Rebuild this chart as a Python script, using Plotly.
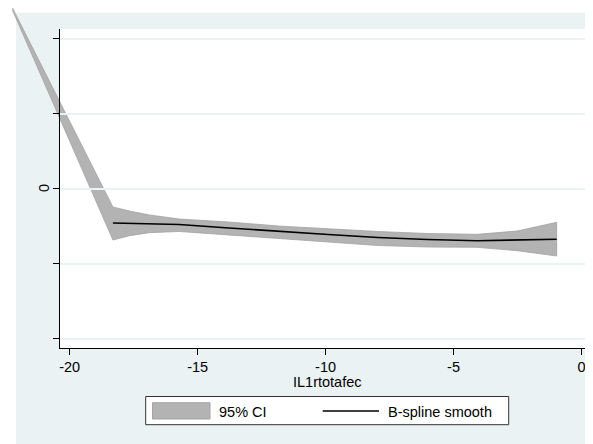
import plotly.graph_objects as go

# ---------------- data ----------------
x_ci = [-22.24, -18.31, -17.66, -16.88, -15.72, -13.78, -11.84, -9.90,
        -7.96, -6.02, -4.08, -2.52, -1.75, -0.97]
ci_upper = [2.41, -0.247, -0.300, -0.353, -0.407, -0.447, -0.500, -0.540,
            -0.573, -0.600, -0.611, -0.567, -0.513, -0.451]
ci_lower = [2.38, -0.687, -0.629, -0.589, -0.573, -0.620, -0.673, -0.713,
            -0.760, -0.780, -0.784, -0.829, -0.864, -0.900]
x_fit = [-18.31, -17.66, -16.88, -15.72, -13.78, -11.84, -9.90,
         -7.96, -6.02, -4.08, -2.52, -1.75, -0.97]
fit = [-0.460, -0.467, -0.473, -0.480, -0.527, -0.573, -0.613,
       -0.653, -0.680, -0.696, -0.687, -0.680, -0.677]

x_tickvals = [-20, -15, -10, -5, 0]
x_ticktext = ["-20", "-15", "-10", "-5", "0"]
y_tickvals = [-2, -1, 0, 1, 2]
y_labelled = 0
y_label_text = "0"
x_title = "IL1rtotafec"
legend_labels = ["95% CI", "B-spline smooth"]

# ---------------- geometry / style ----------------
OFF = 8                    # page body margin
W, H = 585, 436            # figure size
SR, SB = OFF + W, OFF + H  # right / bottom edge of figure in screenshot px
PL, PR, PT, PB = 60, SR, 29, 348          # plot region (screenshot px)
X20, X0 = 69.7, 581.5                     # px of x=-20 and x=0
x_ppu = (X0 - X20) / 20
x_range = [-20 - (X20 - PL) / x_ppu, (PR - X0) / x_ppu]
y_range = [-2.1267, 2.1267]
BG = "#eaf2f3"
BAND_FILL = "#b3b3b3"
BAND_LINE = "#a3a3a3"
FONT = "Liberation Sans, Arial, Helvetica, sans-serif"
FS = 14.5

# full-figure axes (so the band is not clipped at the plot region)
xppu = (PR - PL) / (x_range[1] - x_range[0])
yppu = (PB - PT) / (y_range[1] - y_range[0])
x_full = [x_range[0] - (PL - OFF) / xppu, x_range[1] + (SR - PR) / xppu]
y_full = [y_range[0] - (SB - PB) / yppu, y_range[1] + (PT - OFF) / yppu]


def px(x):
    return (x - OFF) / W


def py(y):
    return 1 - (y - OFF) / H


fig = go.Figure()

fig.add_trace(go.Scatter(
    x=x_ci + x_ci[::-1], y=ci_upper + ci_lower[::-1],
    fill="toself", fillcolor=BAND_FILL, mode="lines",
    line=dict(color=BAND_LINE, width=0.8),
    name=legend_labels[0], showlegend=False, hoverinfo="skip",
    xaxis="x", yaxis="y"))
fig.add_trace(go.Scatter(
    x=x_fit, y=fit, mode="lines", line=dict(color="black", width=1.6),
    name=legend_labels[1], showlegend=False, xaxis="x", yaxis="y"))
# empty trace so the visible axes subplot exists
fig.add_trace(go.Scatter(x=[], y=[], xaxis="x2", yaxis="y2",
                         showlegend=False, hoverinfo="skip"))

shapes = [
    # outer background
    dict(type="rect", xref="paper", yref="paper", x0=px(16), x1=1,
         y0=0, y1=py(12.7), fillcolor=BG, line=dict(width=0), layer="below"),
    # plot region
    dict(type="rect", xref="paper", yref="paper", x0=px(PL), x1=1,
         y0=py(PB), y1=py(PT), fillcolor="white", line=dict(width=0),
         layer="below"),
    # legend box
    dict(type="rect", xref="paper", yref="paper", x0=px(145.7), x1=px(508.7),
         y0=py(424.7), y1=py(396.5), fillcolor="white",
         line=dict(color="#333333", width=1), layer="above"),
    # legend swatch for CI
    dict(type="rect", xref="paper", yref="paper", x0=px(152.5), x1=px(210),
         y0=py(419), y1=py(402.7), fillcolor=BAND_FILL,
         line=dict(color=BAND_LINE, width=1), layer="above"),
    # legend line for smooth
    dict(type="line", xref="paper", yref="paper", x0=px(322.7), x1=px(379),
         y0=py(411), y1=py(411), line=dict(color="black", width=1.6),
         layer="above"),
]

txt = dict(family=FONT, size=FS, color="black")
annotations = [
    dict(text=legend_labels[0], xref="paper", yref="paper", x=px(216.5),
         y=py(411.5), xanchor="left", yanchor="middle", showarrow=False,
         font=txt),
    dict(text=legend_labels[1], xref="paper", yref="paper", x=px(386.3),
         y=py(411.5), xanchor="left", yanchor="middle", showarrow=False,
         font=txt),
    # x axis title
    dict(text=x_title, xref="paper", yref="paper", x=px(327.3),
         y=py(382), xanchor="center", yanchor="middle", showarrow=False,
         font=txt),
    # rotated y tick label
    dict(text=y_label_text, xref="paper", yref="y2", x=px(43.5),
         y=y_labelled, xanchor="center", yanchor="middle", showarrow=False,
         textangle=-90, font=txt),
]

fig.update_layout(
    width=W, height=H, autosize=False,
    margin=dict(l=0, r=0, t=0, b=0, pad=0),
    paper_bgcolor="white", plot_bgcolor="rgba(0,0,0,0)",
    showlegend=False,
    font=txt,
    shapes=shapes, annotations=annotations,
    xaxis=dict(domain=[0, 1], range=x_full, visible=False, anchor="y"),
    yaxis=dict(domain=[0, 1], range=y_full, visible=False, anchor="x"),
    xaxis2=dict(domain=[px(PL), 1], range=x_range, anchor="y2",
                showline=True, linecolor="black", linewidth=1,
                ticks="outside", ticklen=6, tickcolor="black", tickwidth=1,
                tickvals=x_tickvals, ticktext=x_ticktext,
                showgrid=False, zeroline=False, tickfont=txt),
    yaxis2=dict(domain=[py(PB), py(PT)], range=y_range, anchor="x2",
                showline=True, linecolor="black", linewidth=1,
                ticks="outside", ticklen=6, tickcolor="black", tickwidth=1,
                tickvals=y_tickvals, showticklabels=False,
                showgrid=True, gridcolor=BG, gridwidth=1.5, zeroline=False),
)

fig.write_html("out.html")
